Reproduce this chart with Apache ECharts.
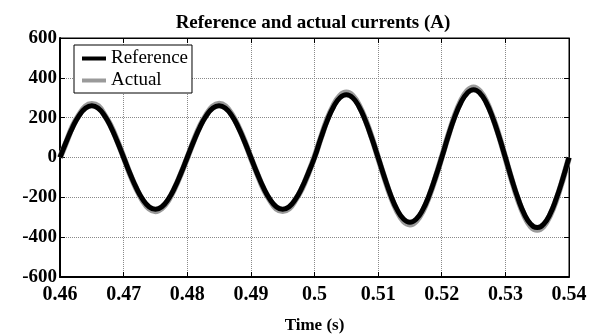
<!DOCTYPE html>
<html>
<head>
<meta charset="utf-8">
<script src="https://cdn.jsdelivr.net/npm/echarts@6/dist/echarts.min.js"></script>
<style>
  html, body { margin: 0; padding: 0; background: #fff; }
  #main { width: 591px; height: 334px; }
</style>
</head>
<body>
<div id="main"></div>
<script>
var chartDom = document.getElementById('main');
var myChart = echarts.init(chartDom, null);
var option;

// time axis, 1 ms steps from 0.46 to 0.54 s
var tStart = 0.46;
var tStep = 0.001;

var referenceCurrent = [
  0, 80, 153, 210, 247, 260, 247, 210, 153, 80, 0,
  -80, -153, -210, -247, -260, -247, -210, -153, -80, 0,
  80, 153, 210, 247, 260, 247, 210, 153, 80, 0,
  -80, -153, -210, -247, -260, -247, -210, -153, -80, 0,
  97, 185, 255, 300, 315, 300, 255, 185, 97, 0,
  -100, -191, -263, -309, -325, -309, -263, -191, -100, 0,
  105, 200, 275, 323, 340, 323, 275, 200, 105, 0,
  -109, -207, -285, -335, -352, -335, -285, -207, -109, 0
];

var actualCurrent = [
  0, 78, 158, 214, 256, 268, 258, 213, 158, 84, 2,
  -84, -156, -216, -256, -270, -255, -216, -156, -82, -2,
  82, 158, 214, 256, 270, 257, 216, 157, 84, -2,
  -82, -158, -214, -257, -268, -256, -213, -158, -82, 2,
  99, 191, 262, 310, 326, 310, 262, 190, 101, -2,
  -102, -197, -270, -320, -336, -318, -270, -196, -103, 2,
  108, 206, 283, 334, 352, 333, 282, 204, 109, -2,
  -112, -213, -293, -346, -363, -345, -292, -212, -112, 0
];

function pairs(vals) {
  return vals.map(function (v, i) {
    return [+(tStart + i * tStep).toFixed(3), v];
  });
}

var font = 'Liberation Serif';

var split = { show: true, lineStyle: { color: '#8a8a8a', width: 1, type: [1, 1] } };

option = {
  animation: false,
  backgroundColor: '#ffffff',
  textStyle: { fontFamily: font },
  title: {
    text: 'Reference and actual currents (A)',
    left: 308,
    textAlign: 'center',
    top: 9,
    textStyle: { fontFamily: font, fontWeight: 'bold', fontSize: 19, color: '#000' }
  },
  legend: {
    orient: 'vertical',
    left: 74,
    top: 45,
    padding: [4, 4, 3, 8],
    itemGap: 3,
    itemWidth: 24,
    itemHeight: 4,
    backgroundColor: '#fff',
    borderColor: '#000',
    borderWidth: 1,
    borderRadius: 0,
    textStyle: { fontFamily: font, fontSize: 19, color: '#000' },
    data: [
      { name: 'Reference', icon: 'rect', itemStyle: { color: '#000' } },
      { name: 'Actual', icon: 'rect', itemStyle: { color: '#9a9a9a' } }
    ]
  },
  grid: {
    left: 60, right: 22, top: 38, bottom: 57,
    outerBoundsMode: 'none',
    containLabel: false,
    show: true, borderColor: '#000', borderWidth: 1
  },
  xAxis: [{
    type: 'value',
    min: 0.46, max: 0.54, interval: 0.01,
    name: 'Time (s)',
    nameLocation: 'middle',
    nameGap: 40,
    nameTextStyle: { fontFamily: font, fontWeight: 'bold', fontSize: 17, color: '#000' },
    axisLine: { show: true, onZero: false, lineStyle: { color: '#000', width: 2 } },
    axisTick: { show: true, inside: true, length: 5, lineStyle: { color: '#000' } },
    axisLabel: {
      margin: 8,
      fontFamily: font, fontWeight: 'bold', fontSize: 20, color: '#000',
      formatter: function (v) { return String(parseFloat(v.toFixed(2))); }
    },
    splitLine: split
  }, {
    type: 'value', position: 'top',
    min: 0.46, max: 0.54, interval: 0.01,
    axisLine: { show: true, onZero: false, lineStyle: { color: '#000', width: 1 } },
    axisTick: { show: true, inside: true, length: 5, lineStyle: { color: '#000' } },
    axisLabel: { show: false },
    splitLine: { show: false }
  }],
  yAxis: [{
    type: 'value',
    min: -600, max: 600, interval: 200,
    axisLine: { show: true, onZero: false, lineStyle: { color: '#000', width: 2 } },
    axisTick: { show: true, inside: true, length: 5, lineStyle: { color: '#000' } },
    axisLabel: { margin: 3, fontFamily: font, fontWeight: 'bold', fontSize: 19, color: '#000' },
    splitLine: split
  }, {
    type: 'value', position: 'right',
    min: -600, max: 600, interval: 200,
    axisLine: { show: true, onZero: false, lineStyle: { color: '#000', width: 1 } },
    axisTick: { show: true, inside: true, length: 5, lineStyle: { color: '#000' } },
    axisLabel: { show: false },
    splitLine: { show: false }
  }],
  series: [{
    name: 'Actual',
    type: 'line',
    data: pairs(actualCurrent),
    showSymbol: false,
    smooth: 0.4,
    lineStyle: { color: '#9a9a9a', width: 6 },
    itemStyle: { color: '#9a9a9a' },
    z: 2
  }, {
    name: 'Reference',
    type: 'line',
    data: pairs(referenceCurrent),
    showSymbol: false,
    smooth: true,
    lineStyle: { color: '#000', width: 5 },
    itemStyle: { color: '#000' },
    z: 3
  }]
};

myChart.setOption(option);
</script>
</body>
</html>
